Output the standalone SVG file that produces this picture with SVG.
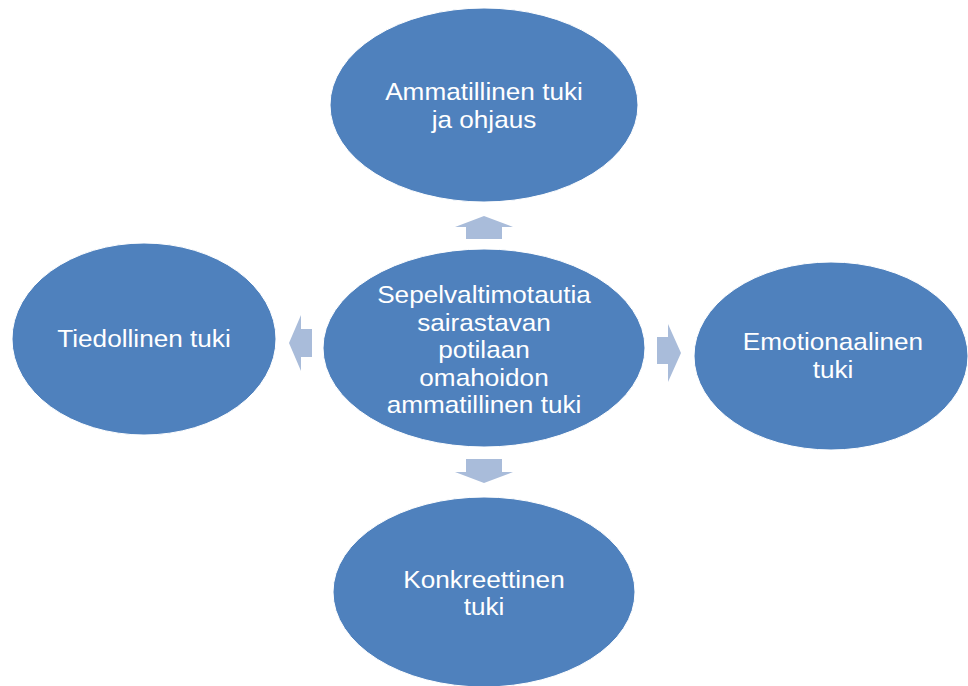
<svg xmlns="http://www.w3.org/2000/svg" width="968" height="686" viewBox="0 0 968 686">
<style>
.node ellipse{fill:#4f81bd;stroke:#ffffff;stroke-width:1}
.node text{fill:#ffffff;font-family:"Liberation Sans",Arial,sans-serif;font-size:24px;text-anchor:middle}
.arrow{fill:#a9bcda}
</style>
<rect width="968" height="686" fill="#ffffff"/>
<g id="connectors">
<polygon class="arrow" points="484,216 513,227 502,227 502,239 466,239 466,227 455,227"/>
<polygon class="arrow" points="466,459 502,459 502,472 513,472 484,483 455,472 466,472"/>
<polygon class="arrow" points="289,343 301,315 301,329 312,329 312,357 301,357 301,371"/>
<polygon class="arrow" points="657,337 668,337 668,324 681,353 668,382 668,364 657,364"/>
</g>
<g id="node-top" class="node">
<ellipse cx="484" cy="105" rx="154" ry="97"/>
<text transform="translate(484,0) scale(1.09,1)"><tspan x="0" y="100">Ammatillinen tuki</tspan><tspan x="0" y="128">ja ohjaus</tspan></text>
</g>
<g id="node-center" class="node">
<ellipse cx="484" cy="348" rx="161" ry="99"/>
<text transform="translate(484,0) scale(1.09,1)"><tspan x="0" y="303">Sepelvaltimotautia</tspan><tspan x="0" y="331">sairastavan</tspan><tspan x="0" y="358">potilaan</tspan><tspan x="0" y="386">omahoidon</tspan><tspan x="0" y="413">ammatillinen tuki</tspan></text>
</g>
<g id="node-left" class="node">
<ellipse cx="144" cy="339" rx="132" ry="96"/>
<text transform="translate(144,0) scale(1.09,1)"><tspan x="0" y="347">Tiedollinen tuki</tspan></text>
</g>
<g id="node-right" class="node">
<ellipse cx="831" cy="356" rx="137" ry="94"/>
<text transform="translate(833,0) scale(1.09,1)"><tspan x="0" y="350">Emotionaalinen</tspan><tspan x="0" y="378">tuki</tspan></text>
</g>
<g id="node-bottom" class="node">
<ellipse cx="484" cy="592" rx="151" ry="95"/>
<text transform="translate(484,0) scale(1.09,1)"><tspan x="0" y="588">Konkreettinen</tspan><tspan x="0" y="615">tuki</tspan></text>
</g>
</svg>
